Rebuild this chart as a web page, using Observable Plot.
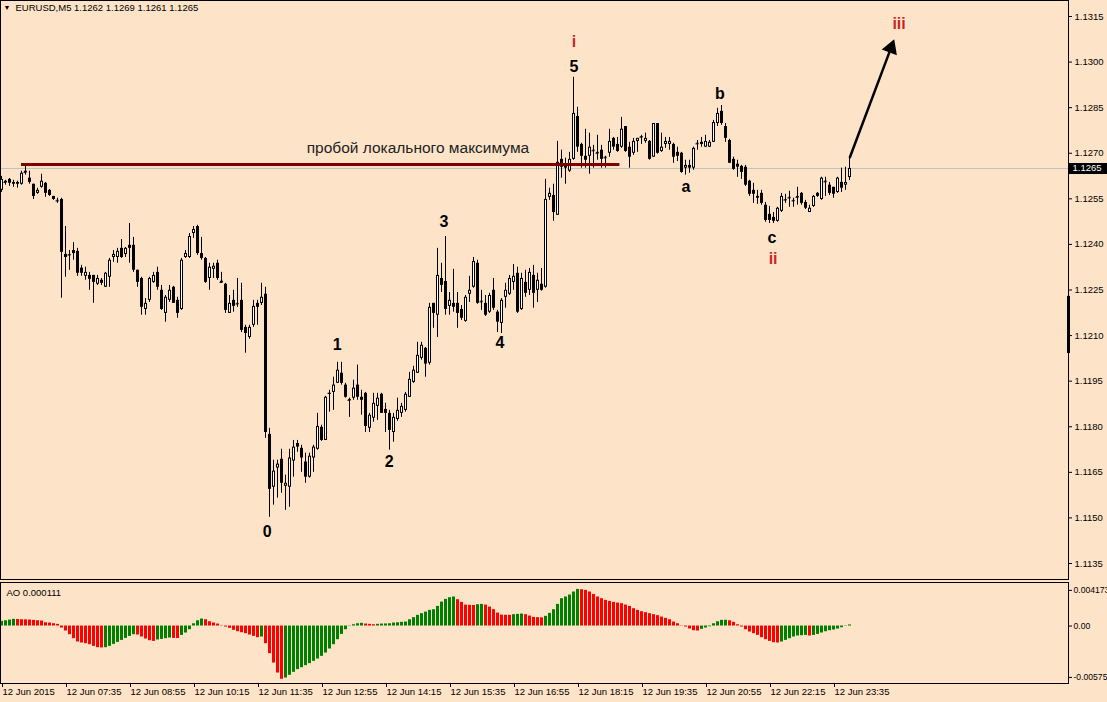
<!DOCTYPE html>
<html><head><meta charset="utf-8">
<script src="https://cdn.jsdelivr.net/npm/d3@7"></script>
<script src="https://cdn.jsdelivr.net/npm/@observablehq/plot@0.6"></script>
<style>
html,body{margin:0;padding:0;background:#fde4c8;overflow:hidden;}
#chart{width:1107px;height:702px;}
#chart svg{display:block;}
</style></head><body><div id="chart"></div>
<script>
// EURUSD M5, 12 Jun 2015, bars 06:15 ... 23:55
const opens = [
1.12578,1.12608,1.12614,1.12598,1.12598,1.12598,1.12641,1.12618,1.12598,1.12568,
1.12588,1.12601,1.12578,1.12558,1.12545,1.12548,1.12367,1.12367,1.12380,1.12377,
1.12322,1.12295,1.12298,1.12298,1.12269,1.12282,1.12259,1.12292,1.12357,1.12357,
1.12387,1.12367,1.12397,1.12397,1.12315,1.12288,1.12186,1.12216,1.12275,1.12308,
1.12249,1.12173,1.12216,1.12259,1.12216,1.12186,1.12357,1.12357,1.12436,1.12459,
1.12370,1.12354,1.12288,1.12318,1.12338,1.12279,1.12269,1.12173,1.12216,1.12206,
1.12216,1.12127,1.12094,1.12134,1.12206,1.12206,1.12236,1.11775,1.11601,1.11664,
1.11693,1.11604,1.11601,1.11687,1.11745,1.11729,1.11684,1.11634,1.11697,1.11726,
1.11798,1.11755,1.11907,1.11913,1.11943,1.11976,1.11937,1.11890,1.11894,1.11937,
1.11897,1.11910,1.11795,1.11828,1.11867,1.11907,1.11857,1.11844,1.11781,1.11824,
1.11844,1.11854,1.11897,1.11946,1.11976,1.12025,1.12058,1.12009,1.12206,1.12167,
1.12288,1.12278,1.12196,1.12206,1.12206,1.12186,1.12147,1.12236,1.12259,1.12338,
1.12213,1.12206,1.12177,1.12249,1.12177,1.12140,1.12226,1.12236,1.12275,1.12305,
1.12186,1.12275,1.12249,1.12298,1.12249,1.12269,1.12259,1.12555,1.12561,1.12496,
1.12680,1.12660,1.12641,1.12680,1.12821,1.12729,1.12690,1.12690,1.12710,1.12703,
1.12710,1.12687,1.12700,1.12749,1.12729,1.12720,1.12788,1.12720,1.12700,1.12739,
1.12755,1.12739,1.12739,1.12687,1.12798,1.12706,1.12729,1.12729,1.12729,1.12703,
1.12700,1.12651,1.12660,1.12651,1.12733,1.12736,1.12720,1.12720,1.12736,1.12798,
1.12838,1.12788,1.12742,1.12680,1.12664,1.12657,1.12654,1.12608,1.12578,1.12552,
1.12568,1.12529,1.12499,1.12489,1.12476,1.12509,1.12548,1.12555,1.12545,1.12558,
1.12568,1.12538,1.12505,1.12525,1.12568,1.12548,1.12608,1.12595,1.12588,1.12571,
1.12604,1.12595,1.12620];
const highs = [
1.12624,1.12611,1.12617,1.12611,1.12608,1.12641,1.12664,1.12641,1.12598,1.12585,
1.12631,1.12604,1.12581,1.12558,1.12552,1.12552,1.12459,1.12380,1.12406,1.12387,
1.12331,1.12325,1.12308,1.12298,1.12298,1.12288,1.12308,1.12354,1.12380,1.12387,
1.12416,1.12390,1.12469,1.12423,1.12315,1.12292,1.12222,1.12292,1.12308,1.12325,
1.12265,1.12232,1.12265,1.12262,1.12226,1.12354,1.12380,1.12436,1.12459,1.12463,
1.12423,1.12357,1.12338,1.12338,1.12348,1.12308,1.12272,1.12232,1.12249,1.12288,
1.12272,1.12134,1.12134,1.12216,1.12216,1.12272,1.12259,1.11795,1.11690,1.11690,
1.11726,1.11641,1.11726,1.11755,1.11755,1.11739,1.11713,1.11713,1.11739,1.11844,
1.11805,1.11900,1.11920,1.11963,1.12012,1.12012,1.11943,1.11894,1.11953,1.12003,
1.11920,1.11913,1.11844,1.11910,1.11910,1.11910,1.11877,1.11854,1.11844,1.11894,
1.11877,1.11913,1.11979,1.11999,1.12078,1.12078,1.12061,1.12206,1.12206,1.12387,
1.12338,1.12426,1.12242,1.12318,1.12242,1.12199,1.12232,1.12295,1.12357,1.12348,
1.12249,1.12232,1.12239,1.12288,1.12183,1.12222,1.12272,1.12298,1.12334,1.12325,
1.12305,1.12315,1.12321,1.12331,1.12305,1.12321,1.12614,1.12585,1.12598,1.12739,
1.12710,1.12684,1.12703,1.12950,1.12851,1.12733,1.12779,1.12766,1.12726,1.12759,
1.12726,1.12690,1.12779,1.12752,1.12752,1.12818,1.12788,1.12736,1.12749,1.12749,
1.12759,1.12766,1.12742,1.12798,1.12798,1.12766,1.12752,1.12752,1.12733,1.12720,
1.12703,1.12677,1.12677,1.12720,1.12742,1.12752,1.12759,1.12742,1.12808,1.12848,
1.12857,1.12798,1.12746,1.12687,1.12677,1.12660,1.12660,1.12611,1.12601,1.12578,
1.12578,1.12538,1.12525,1.12505,1.12522,1.12568,1.12565,1.12575,1.12552,1.12588,
1.12571,1.12545,1.12529,1.12561,1.12571,1.12621,1.12621,1.12604,1.12588,1.12621,
1.12651,1.12654,1.12690];
const lows = [
1.12571,1.12595,1.12591,1.12588,1.12585,1.12595,1.12628,1.12598,1.12548,1.12565,
1.12585,1.12555,1.12558,1.12545,1.12535,1.12223,1.12292,1.12315,1.12348,1.12295,
1.12295,1.12282,1.12249,1.12206,1.12265,1.12265,1.12259,1.12259,1.12341,1.12338,
1.12354,1.12357,1.12338,1.12308,1.12259,1.12167,1.12167,1.12209,1.12272,1.12249,
1.12183,1.12144,1.12209,1.12206,1.12157,1.12183,1.12354,1.12354,1.12420,1.12364,
1.12348,1.12272,1.12249,1.12288,1.12282,1.12272,1.12173,1.12173,1.12177,1.12193,
1.12110,1.12042,1.12088,1.12127,1.12134,1.12199,1.11762,1.11502,1.11542,1.11565,
1.11581,1.11525,1.11535,1.11634,1.11716,1.11650,1.11614,1.11631,1.11650,1.11723,
1.11752,1.11755,1.11848,1.11854,1.11943,1.11937,1.11894,1.11831,1.11887,1.11887,
1.11838,1.11781,1.11781,1.11815,1.11821,1.11844,1.11781,1.11723,1.11749,1.11818,
1.11831,1.11848,1.11897,1.11943,1.11976,1.12019,1.11963,1.12003,1.12124,1.12094,
1.12242,1.12167,1.12167,1.12177,1.12124,1.12150,1.12144,1.12209,1.12256,1.12203,
1.12183,1.12163,1.12173,1.12183,1.12110,1.12107,1.12190,1.12232,1.12249,1.12173,
1.12183,1.12226,1.12232,1.12190,1.12209,1.12246,1.12256,1.12545,1.12476,1.12496,
1.12618,1.12598,1.12637,1.12677,1.12703,1.12651,1.12651,1.12631,1.12651,1.12677,
1.12651,1.12651,1.12687,1.12710,1.12703,1.12716,1.12703,1.12651,1.12693,1.12703,
1.12729,1.12733,1.12677,1.12687,1.12697,1.12703,1.12716,1.12710,1.12667,1.12673,
1.12634,1.12628,1.12634,1.12644,1.12710,1.12720,1.12720,1.12720,1.12736,1.12788,
1.12792,1.12736,1.12667,1.12644,1.12621,1.12614,1.12591,1.12558,1.12535,1.12532,
1.12529,1.12473,1.12469,1.12469,1.12473,1.12505,1.12535,1.12522,1.12522,1.12529,
1.12529,1.12515,1.12505,1.12522,1.12555,1.12545,1.12558,1.12561,1.12552,1.12568,
1.12571,1.12578,1.12610];
const closes = [
1.12614,1.12604,1.12601,1.12604,1.12604,1.12634,1.12637,1.12604,1.12558,1.12578,
1.12608,1.12568,1.12561,1.12548,1.12543,1.12374,1.12357,1.12365,1.12370,1.12305,
1.12305,1.12308,1.12285,1.12275,1.12288,1.12272,1.12305,1.12348,1.12367,1.12377,
1.12357,1.12387,1.12387,1.12315,1.12275,1.12193,1.12206,1.12288,1.12298,1.12259,
1.12186,1.12226,1.12249,1.12206,1.12173,1.12348,1.12370,1.12426,1.12449,1.12370,
1.12354,1.12275,1.12325,1.12328,1.12288,1.12275,1.12183,1.12206,1.12196,1.12204,
1.12117,1.12107,1.12127,1.12196,1.12193,1.12226,1.11781,1.11594,1.11654,1.11677,
1.11614,1.11614,1.11697,1.11733,1.11733,1.11697,1.11634,1.11703,1.11733,1.11801,
1.11755,1.11897,1.11910,1.11937,1.11986,1.11943,1.11897,1.11887,1.11927,1.11897,
1.11887,1.11801,1.11838,1.11877,1.11894,1.11844,1.11844,1.11788,1.11831,1.11854,
1.11867,1.11907,1.11956,1.11986,1.12035,1.12068,1.12006,1.12193,1.12173,1.12298,
1.12265,1.12186,1.12216,1.12193,1.12173,1.12157,1.12226,1.12249,1.12344,1.12206,
1.12211,1.12167,1.12232,1.12190,1.12144,1.12216,1.12249,1.12288,1.12295,1.12177,
1.12288,1.12239,1.12308,1.12239,1.12282,1.12249,1.12548,1.12568,1.12505,1.12670,
1.12654,1.12651,1.12680,1.12831,1.12720,1.12690,1.12677,1.12720,1.12708,1.12700,
1.12680,1.12685,1.12739,1.12720,1.12706,1.12779,1.12706,1.12687,1.12739,1.12749,
1.12753,1.12749,1.12680,1.12798,1.12700,1.12720,1.12739,1.12739,1.12687,1.12690,
1.12637,1.12660,1.12651,1.12716,1.12731,1.12729,1.12739,1.12736,1.12801,1.12831,
1.12798,1.12749,1.12667,1.12647,1.12654,1.12637,1.12595,1.12565,1.12565,1.12558,
1.12535,1.12479,1.12479,1.12476,1.12519,1.12558,1.12546,1.12553,1.12543,1.12555,
1.12535,1.12519,1.12519,1.12558,1.12558,1.12618,1.12606,1.12568,1.12565,1.12618,
1.12585,1.12604,1.12650];
// Awesome Oscillator values
const aoValues = [
0.00047,0.00053,0.00060,0.00067,0.00066,0.00063,0.00062,0.00060,0.00057,0.00053,
0.00050,0.00033,0.00030,0.00023,0.00017,-0.00020,-0.00050,-0.00087,-0.00127,-0.00160,
-0.00170,-0.00177,-0.00187,-0.00204,-0.00217,-0.00220,-0.00217,-0.00204,-0.00184,-0.00164,
-0.00144,-0.00124,-0.00104,-0.00087,-0.00090,-0.00110,-0.00130,-0.00147,-0.00154,-0.00140,
-0.00134,-0.00127,-0.00120,-0.00124,-0.00125,-0.00094,-0.00070,-0.00037,0.00023,0.00053,
0.00070,0.00063,0.00043,0.00030,0.00020,0.00003,-0.00010,-0.00023,-0.00043,-0.00057,
-0.00067,-0.00077,-0.00090,-0.00104,-0.00117,-0.00110,-0.00177,-0.00277,-0.00371,-0.00471,
-0.00534,-0.00521,-0.00494,-0.00464,-0.00437,-0.00418,-0.00397,-0.00377,-0.00354,-0.00331,
-0.00304,-0.00271,-0.00230,-0.00187,-0.00137,-0.00084,-0.00037,-0.00003,0.00013,0.00023,
0.00027,0.00020,0.00017,0.00013,0.00017,0.00020,0.00021,0.00023,0.00030,0.00033,
0.00037,0.00040,0.00063,0.00084,0.00107,0.00124,0.00140,0.00157,0.00164,0.00197,
0.00240,0.00267,0.00284,0.00291,0.00264,0.00237,0.00210,0.00208,0.00206,0.00214,
0.00217,0.00210,0.00190,0.00164,0.00130,0.00110,0.00108,0.00107,0.00114,0.00117,
0.00120,0.00114,0.00100,0.00087,0.00084,0.00082,0.00097,0.00127,0.00164,0.00217,
0.00274,0.00291,0.00311,0.00341,0.00367,0.00364,0.00357,0.00341,0.00317,0.00291,
0.00274,0.00257,0.00247,0.00237,0.00230,0.00224,0.00210,0.00197,0.00174,0.00157,
0.00144,0.00134,0.00124,0.00114,0.00104,0.00090,0.00077,0.00063,0.00040,0.00023,
0.00003,-0.00010,-0.00030,-0.00047,-0.00050,-0.00033,-0.00020,-0.00007,0.00023,0.00043,
0.00057,0.00058,0.00053,0.00037,0.00013,-0.00010,-0.00037,-0.00060,-0.00077,-0.00094,
-0.00117,-0.00137,-0.00154,-0.00167,-0.00170,-0.00160,-0.00144,-0.00127,-0.00110,-0.00100,
-0.00097,-0.00094,-0.00100,-0.00094,-0.00084,-0.00070,-0.00057,-0.00047,-0.00040,-0.00030,
-0.00017,-0.00003,0.000111];
const aoRange = [-0.00575, 0.004173];
const timeTicks = [0,16,32,48,64,80,96,112,128,144,160,176,192,208];
const timeLabels = ["12 Jun 2015","12 Jun 07:35","12 Jun 08:55","12 Jun 10:15","12 Jun 11:35","12 Jun 12:55","12 Jun 14:15","12 Jun 15:35","12 Jun 16:55","12 Jun 18:15","12 Jun 19:35","12 Jun 20:55","12 Jun 22:15","12 Jun 23:35"];
const priceTicks = [1.1135,1.1150,1.1165,1.1180,1.1195,1.1210,1.1225,1.1240,1.1255,1.1270,1.1285,1.1300,1.1315];
const waveText  = ["0","1","2","3","4","5","i","a","b","c","ii","iii"];
const waveIndex = [66.4,83.9,96.9,110.6,124.6,143.1,143.1,171.1,179.6,192.6,192.9,224.4];
const wavePrice = [1.11453,1.12071,1.11684,1.12473,1.12075,1.12983,1.13068,1.12588,1.12897,1.12420,1.12354,1.13127];
const breakout = {from: 5, to: 154.6, price: 1.12663, text: "пробой локального максимума", textIndex: 104.1, textPrice: 1.12716};
const arrowIndex = [212.1, 222.9];
const arrowPrice = [1.12687, 1.13065];
const scaleMarker = [1.12229, 1.12041];
const symbol = "EURUSD,M5";
const indicatorName = "AO";

const FONT = '"Liberation Sans", Arial, sans-serif';
const BG = "#fde4c8";
const RED_WAVE = "#c62828";
const n = opens.length;
const candles = d3.range(n).map(i => ({i, o: opens[i], h: highs[i], l: lows[i], c: closes[i]}));
const bulls = candles.filter(d => d.c - d.o > 0.00007);
const flats = candles.filter(d => Math.abs(d.c - d.o) < 0.00005);
const aoData = aoValues.map((v, i) => ({i, v, up: i === 0 || v > aoValues[i - 1]}));
const waves = waveText.map((t, k) => ({t, i: waveIndex[k], p: wavePrice[k], roman: /^i+$/.test(t)}));
const fmt4 = d3.format(".4f");
const lastPrice = closes[n - 1];
const xOpt = {domain: [-0.25, 266.75], range: [0, 1068], axis: null};
const axisEnd = 266.75;
const labelMap = new Map(timeTicks.map((t, k) => [t, timeLabels[k]]));
const header = `${symbol} ${fmt4(opens[n-1])} ${fmt4(highs[n-1])} ${fmt4(lows[n-1])} ${fmt4(closes[n-1])}`;
// arrow head sits at the end of the arrow, slightly set back along its direction
const headBack = 0.05;
const headAt = {i: arrowIndex[1] - (arrowIndex[1] - arrowIndex[0]) * headBack, p: arrowPrice[1] - (arrowPrice[1] - arrowPrice[0]) * headBack};

const main = Plot.plot({
  width: 1107, height: 580,
  marginTop: 0, marginBottom: 1, marginLeft: 0, marginRight: 39,
  style: {background: BG, fontFamily: FONT, fontSize: "9.5px", color: "#000", overflow: "hidden"},
  x: xOpt,
  y: {domain: [1.1135, 1.1315], range: [563, 16], axis: null},
  color: {type: "identity"},
  marks: [
    Plot.ruleY([lastPrice], {stroke: "#c0c0c0"}),
    Plot.ruleX(candles, {x: "i", y1: "h", y2: "l", stroke: "#000"}),
    Plot.ruleX(candles, {x: "i", y1: d => Math.max(d.o, d.c), y2: d => Math.min(d.o, d.c), stroke: "#000", strokeWidth: 3}),
    Plot.ruleX(bulls, {x: "i", y1: "c", y2: "o", stroke: "#fff", insetTop: 1, insetBottom: 1}),
    Plot.ruleY(flats, {y: "c", x1: d => d.i - 0.375, x2: d => d.i + 0.375, stroke: "#000"}),
    Plot.ruleY([breakout], {y: "price", x1: "from", x2: "to", stroke: "#800000", strokeWidth: 3}),
    Plot.text([breakout], {x: "textIndex", y: "textPrice", text: "text", fontSize: 15.5, fill: "#222"}),
    Plot.text(waves, {x: "i", y: "p", text: "t", fill: d => d.roman ? RED_WAVE : "#000", fontWeight: "bold", fontSize: 16}),
    Plot.arrow([0], {x1: () => arrowIndex[0], y1: () => arrowPrice[0], x2: () => headAt.i, y2: () => headAt.p, stroke: "#000", strokeWidth: 2.5, headLength: 0}),
    Plot.dot([headAt], {x: "i", y: "p", symbol: "triangle", r: 6, fill: "#000", stroke: "none", rotate: 20.5}),
    Plot.frame({stroke: "#000"}),
    Plot.ruleX([scaleMarker], {x: () => axisEnd, y1: d => d[0], y2: d => d[1], stroke: "#000", strokeWidth: 3}),
    Plot.axisY(priceTicks, {anchor: "right", tickSize: 3, tickPadding: 3, tickFormat: fmt4, fontSize: 9.5, label: null}),
    Plot.ruleY([lastPrice], {x1: 267, x2: 278, stroke: "#000", strokeWidth: 11}),
    Plot.text([lastPrice], {x: 267, y: d => d, text: d => fmt4(d), fill: "#fff", textAnchor: "start", dx: 3, fontSize: 9.5}),
    Plot.text([header], {frameAnchor: "top-left", text: d => d, textAnchor: "start", dx: 15, dy: 7, fontSize: 9.5, lineAnchor: "middle"}),
    Plot.text(["▼"], {frameAnchor: "top-left", text: d => d, textAnchor: "start", dx: 3, dy: 7, fontSize: 7, lineAnchor: "middle"})
  ]
});

const aoLabels = [
  {v: aoRange[1], t: String(aoRange[1]), dy: 6},
  {v: 0, t: "0.00", dy: 0},
  {v: aoRange[0], t: String(aoRange[0]), dy: -6}
];
const ao = Plot.plot({
  width: 1107, height: 122,
  marginTop: 2, marginBottom: 19, marginLeft: 0, marginRight: 39,
  style: {background: BG, fontFamily: FONT, fontSize: "9.5px", color: "#000", overflow: "hidden"},
  x: xOpt,
  y: {domain: aoRange, range: [102.9, 3.9], axis: null},
  color: {type: "identity"},
  marks: [
    Plot.ruleX(aoData, {x: "i", y1: d => Math.max(0, d.v), y2: d => Math.min(0, d.v), stroke: d => d.up ? "#008000" : "#ff0000", strokeWidth: 3}),
    Plot.frame({stroke: "#000"}),
    Plot.axisX(timeTicks, {anchor: "bottom", tickSize: 4, tickPadding: 1, tickFormat: d => labelMap.get(d), textAnchor: "start", dx: 1, fontSize: 9.5, label: null}),
    ...aoLabels.map(L => Plot.axisY([L.v], {anchor: "right", tickSize: 3, tickPadding: 2, tickFormat: () => L.t, dy: L.dy, fontSize: 8.6, label: null})),
    Plot.text([`${indicatorName} ${aoValues[n-1]}`], {frameAnchor: "top-left", text: d => d, textAnchor: "start", dx: 6, dy: 10, fontSize: 9.5, lineAnchor: "middle"})
  ]
});

const root = document.getElementById("chart");
root.appendChild(main);
root.appendChild(ao);
</script>
</body></html>
